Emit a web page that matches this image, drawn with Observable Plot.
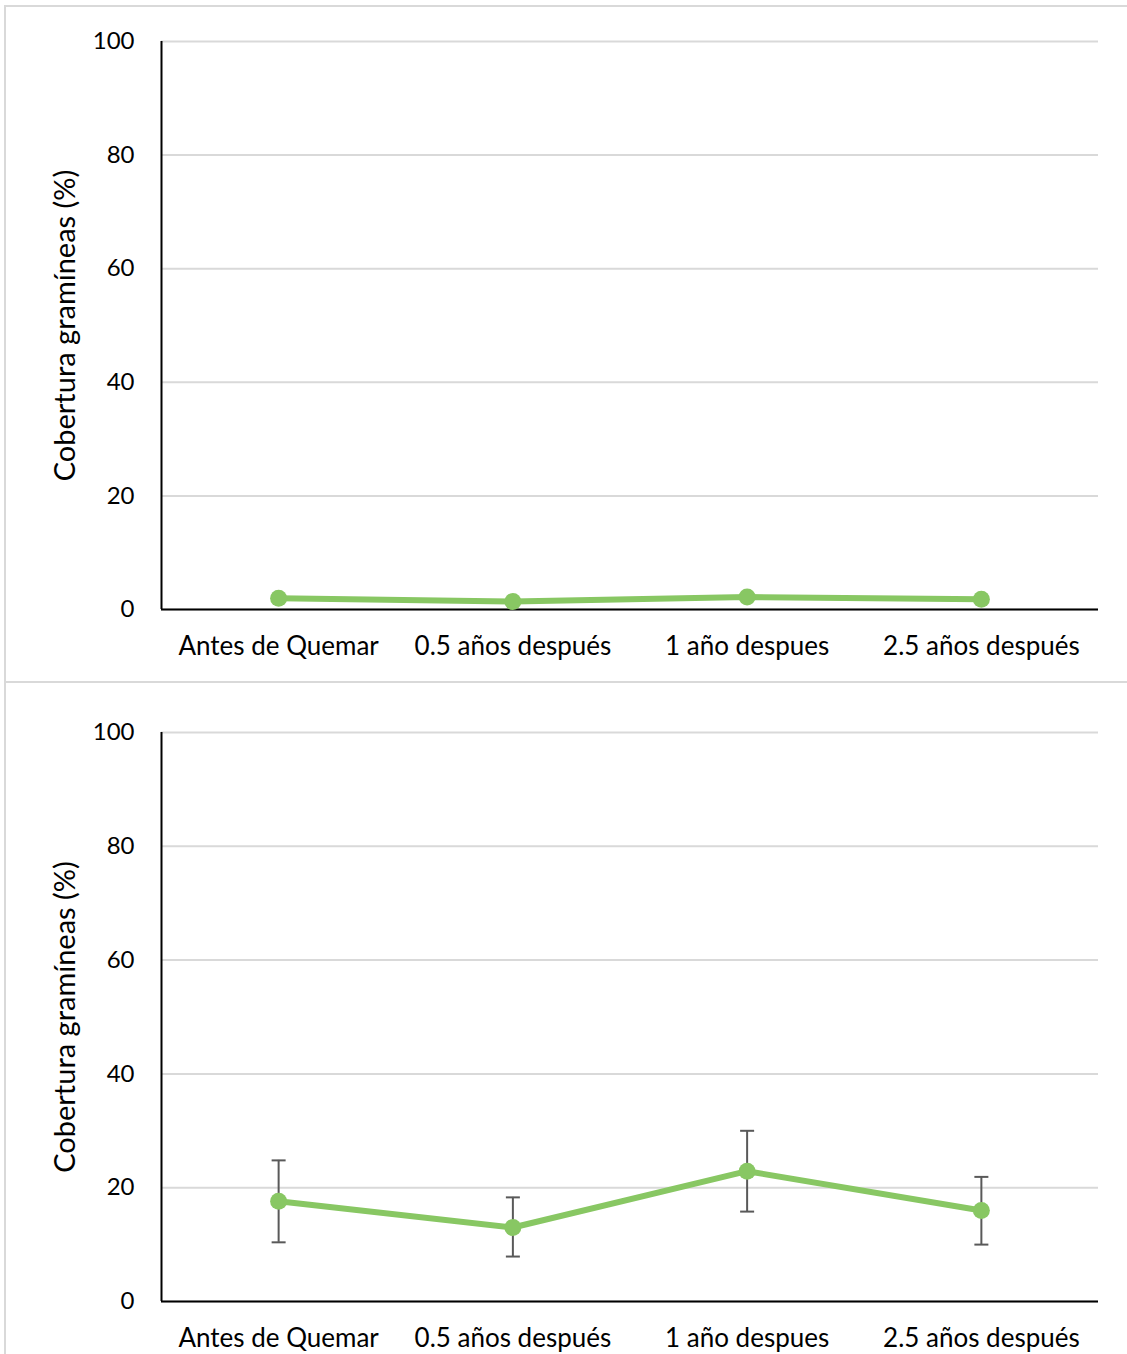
<!DOCTYPE html>
<html>
<head>
<meta charset="utf-8">
<script src="https://cdn.jsdelivr.net/npm/d3@7"></script>
<script src="https://cdn.jsdelivr.net/npm/@observablehq/plot@0.6"></script>
<style>
  html, body { margin: 0; padding: 0; background: #fff; width: 1127px; height: 1354px; overflow: hidden; position: relative; }
  .panel { position: absolute; box-sizing: border-box; border: 2px solid #D9D9D9; background: transparent; }
  .chart { position: absolute; left: 0; }
  svg { overflow: visible; }
</style>
</head>
<body>
<div class="panel" style="left:4px; top:5px; width:1140px; height:678px;"></div>
<div class="panel" style="left:4px; top:681px; width:1140px; height:700px;"></div>
<div id="c1" class="chart" style="top:0px;"></div>
<div id="c2" class="chart" style="top:682px;"></div>
<script>
const categories = ["Antes de Quemar", "0.5 años después", "1 año despues", "2.5 años después"];
const yTicks = [0, 20, 40, 60, 80, 100];
const yTitle = "Cobertura gramíneas (%)";

// Panel 1 (top)
const topValues = [2.0, 1.4, 2.2, 1.8];

// Panel 2 (bottom) with error bars
const bottomValues = [17.6, 13.0, 22.9, 16.0];
const bottomLow = [10.4, 7.9, 15.8, 10.0];
const bottomHigh = [24.8, 18.3, 30.0, 21.9];

const GREEN = "#88C763";
const ERR = "#595959";
const FONT = "Lato, 'Open Sans', sans-serif";

const capSymbol = {
  draw(ctx, size) {
    const w = 7;
    ctx.moveTo(-w, 0);
    ctx.lineTo(w, 0);
  }
};

function makeChart(values, low, high, opts) {
  const data = categories.map((c, i) => ({
    i, cat: c, v: values[i],
    lo: low ? low[i] : null,
    hi: high ? high[i] : null
  }));
  const marks = [
    Plot.gridY(yTicks, {stroke: "#D9D9D9", strokeOpacity: 1, strokeWidth: 2}),
    Plot.axisY(yTicks, {
      tickSize: 0, tickPadding: 27, fontSize: 24, tickFormat: d => d, label: null
    }),
    Plot.axisX(categories.map((c, i) => i), {
      tickSize: 0, tickPadding: 27, fontSize: 26, tickFormat: i => categories[i], label: null
    }),
    Plot.text([yTitle], {
      text: d => d, frameAnchor: "left", rotate: -90, dx: -96,
      fontSize: 29, fill: "#000", textAnchor: "middle", lineAnchor: "middle"
    }),
    Plot.ruleY([0], {stroke: "#000", strokeWidth: 2}),
    Plot.ruleX([-0.5], {y1: 0, y2: 100, stroke: "#000", strokeWidth: 2}),
  ];
  if (low && high) {
    marks.push(
      Plot.ruleX(data, {x: "i", y1: "lo", y2: "hi", stroke: ERR, strokeWidth: 2}),
      Plot.dot(data, {x: "i", y: "lo", symbol: capSymbol, stroke: ERR, strokeWidth: 2, fill: "none", r: 5}),
      Plot.dot(data, {x: "i", y: "hi", symbol: capSymbol, stroke: ERR, strokeWidth: 2, fill: "none", r: 5})
    );
  }
  marks.push(
    Plot.line(data, {x: "i", y: "v", stroke: GREEN, strokeWidth: 6, strokeLinejoin: "round", curve: "linear"}),
    Plot.dot(data, {x: "i", y: "v", fill: GREEN, r: 8.5, stroke: "none"})
  );
  return Plot.plot({
    width: 1127,
    height: opts.height,
    marginLeft: 161,
    marginRight: 29,
    marginTop: opts.marginTop,
    marginBottom: opts.marginBottom,
    style: {fontFamily: FONT, fontSize: "24px", color: "#000", background: "transparent"},
    x: {type: "linear", domain: [-0.5, 3.5], axis: null},
    y: {type: "linear", domain: [0, 100], axis: null},
    marks
  });
}

document.getElementById("c1").appendChild(
  makeChart(topValues, null, null, {height: 682, marginTop: 41, marginBottom: 73})
);
document.getElementById("c2").appendChild(
  makeChart(bottomValues, bottomLow, bottomHigh, {height: 672, marginTop: 50, marginBottom: 53})
);
</script>
</body>
</html>
